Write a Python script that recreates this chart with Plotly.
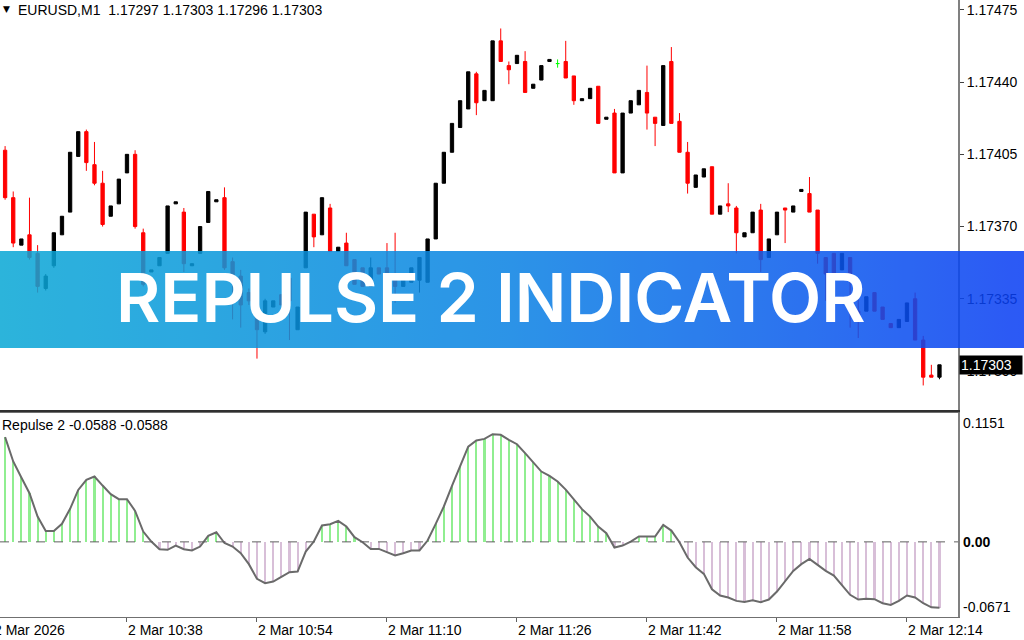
import base64
import pandas as pd
import plotly.graph_objects as go

# ---------------- data ----------------
times = pd.date_range("2026-03-02 10:23", periods=116, freq="min").strftime("%H:%M").tolist()

open_ = [1.17407, 1.17384, 1.17361, 1.17366, 1.17357, 1.17340, 1.17351, 1.17366, 1.17377, 1.17404,
         1.17416, 1.17400, 1.17391, 1.17375, 1.17381, 1.17396, 1.17405, 1.17367, 1.17348, 1.17351,
         1.17357, 1.17381, 1.17377, 1.17351, 1.17357, 1.17372, 1.17382, 1.17384, 1.17353, 1.17346,
         1.17338, 1.17340, 1.17319, 1.17331, 1.17337, 1.17345, 1.17320, 1.17350, 1.17376, 1.17366,
         1.17379, 1.17358, 1.17362, 1.17354, 1.17350, 1.17341, 1.17350, 1.17350, 1.17344, 1.17341,
         1.17343, 1.17344, 1.17343, 1.17364, 1.17391, 1.17406, 1.17418, 1.17427, 1.17444, 1.17431,
         1.17431, 1.17460, 1.17448, 1.17449, 1.17450, 1.17437, 1.17441, 1.17450, 1.17449, 1.17450,
         1.17443, 1.17431, 1.17432, 1.17438, 1.17422, 1.17425, 1.17396, 1.17425, 1.17429, 1.17435,
         1.17423, 1.17419, 1.17450, 1.17421, 1.17406, 1.17389, 1.17394, 1.17399, 1.17376, 1.17381,
         1.17379, 1.17365, 1.17367, 1.17378, 1.17355, 1.17366, 1.17379, 1.17377, 1.17387, 1.17386,
         1.17378, 1.17355, 1.17357, 1.17349, 1.17355, 1.17329, 1.17329, 1.17338, 1.17331, 1.17323,
         1.17321, 1.17324, 1.17335, 1.17315, 1.17298, 1.17297]
high = [1.17409, 1.17387, 1.17364, 1.17384, 1.17361, 1.17347, 1.17367, 1.17375, 1.17406, 1.17416,
        1.17417, 1.17411, 1.17397, 1.17380, 1.17393, 1.17405, 1.17407, 1.17369, 1.17349, 1.17355,
        1.17380, 1.17382, 1.17379, 1.17352, 1.17370, 1.17387, 1.17383, 1.17389, 1.17355, 1.17349,
        1.17340, 1.17341, 1.17335, 1.17334, 1.17337, 1.17346, 1.17331, 1.17377, 1.17376, 1.17384,
        1.17381, 1.17360, 1.17367, 1.17354, 1.17350, 1.17355, 1.17350, 1.17362, 1.17367, 1.17344,
        1.17350, 1.17355, 1.17364, 1.17391, 1.17406, 1.17420, 1.17431, 1.17445, 1.17445, 1.17436,
        1.17460, 1.17466, 1.17450, 1.17453, 1.17455, 1.17439, 1.17448, 1.17451, 1.17451, 1.17460,
        1.17443, 1.17432, 1.17437, 1.17438, 1.17423, 1.17427, 1.17425, 1.17431, 1.17436, 1.17448,
        1.17423, 1.17448, 1.17457, 1.17425, 1.17411, 1.17395, 1.17398, 1.17399, 1.17380, 1.17391,
        1.17380, 1.17367, 1.17377, 1.17381, 1.17364, 1.17377, 1.17379, 1.17380, 1.17388, 1.17394,
        1.17378, 1.17355, 1.17357, 1.17357, 1.17355, 1.17336, 1.17336, 1.17338, 1.17331, 1.17323,
        1.17325, 1.17333, 1.17338, 1.17317, 1.17303, 1.17303]
low = [1.17383, 1.17360, 1.17361, 1.17354, 1.17338, 1.17339, 1.17350, 1.17366, 1.17377, 1.17404,
       1.17397, 1.17390, 1.17370, 1.17375, 1.17381, 1.17396, 1.17369, 1.17341, 1.17348, 1.17351,
       1.17357, 1.17381, 1.17348, 1.17351, 1.17357, 1.17372, 1.17382, 1.17349, 1.17325, 1.17321,
       1.17332, 1.17306, 1.17318, 1.17331, 1.17332, 1.17315, 1.17320, 1.17350, 1.17360, 1.17366,
       1.17358, 1.17358, 1.17351, 1.17342, 1.17341, 1.17341, 1.17347, 1.17343, 1.17333, 1.17341,
       1.17343, 1.17338, 1.17343, 1.17364, 1.17391, 1.17406, 1.17418, 1.17427, 1.17424, 1.17431,
       1.17431, 1.17450, 1.17439, 1.17449, 1.17435, 1.17437, 1.17441, 1.17450, 1.17447, 1.17442,
       1.17429, 1.17431, 1.17432, 1.17420, 1.17422, 1.17396, 1.17396, 1.17425, 1.17429, 1.17417,
       1.17409, 1.17419, 1.17420, 1.17406, 1.17386, 1.17389, 1.17394, 1.17376, 1.17376, 1.17377,
       1.17357, 1.17365, 1.17367, 1.17348, 1.17355, 1.17366, 1.17362, 1.17377, 1.17387, 1.17377,
       1.17352, 1.17334, 1.17346, 1.17349, 1.17321, 1.17316, 1.17329, 1.17329, 1.17325, 1.17321,
       1.17321, 1.17324, 1.17315, 1.17293, 1.17297, 1.17296]
close = [1.17384, 1.17362, 1.17364, 1.17355, 1.17341, 1.17346, 1.17367, 1.17375, 1.17406, 1.17416,
         1.17401, 1.17391, 1.17371, 1.17380, 1.17393, 1.17405, 1.17370, 1.17342, 1.17349, 1.17355,
         1.17380, 1.17382, 1.17352, 1.17352, 1.17370, 1.17387, 1.17383, 1.17350, 1.17345, 1.17332,
         1.17334, 1.17320, 1.17334, 1.17334, 1.17332, 1.17334, 1.17331, 1.17377, 1.17365, 1.17384,
         1.17358, 1.17360, 1.17351, 1.17342, 1.17341, 1.17350, 1.17347, 1.17343, 1.17341, 1.17344,
         1.17350, 1.17355, 1.17364, 1.17391, 1.17406, 1.17420, 1.17431, 1.17445, 1.17430, 1.17436,
         1.17460, 1.17450, 1.17446, 1.17453, 1.17435, 1.17439, 1.17448, 1.17451, 1.17449, 1.17442,
         1.17431, 1.17432, 1.17437, 1.17420, 1.17423, 1.17396, 1.17425, 1.17431, 1.17436, 1.17425,
         1.17420, 1.17448, 1.17420, 1.17406, 1.17391, 1.17395, 1.17398, 1.17376, 1.17380, 1.17380,
         1.17367, 1.17367, 1.17377, 1.17354, 1.17364, 1.17377, 1.17378, 1.17380, 1.17388, 1.17377,
         1.17357, 1.17347, 1.17346, 1.17357, 1.17347, 1.17327, 1.17336, 1.17329, 1.17325, 1.17321,
         1.17325, 1.17333, 1.17315, 1.17297, 1.17297, 1.17303]

repulse = [0.0935, 0.0718, 0.0575, 0.0435, 0.0226, 0.0098, 0.0098, 0.0161, 0.0295, 0.0464,
           0.0554, 0.0584, 0.0503, 0.0426, 0.0381, 0.0381, 0.0277, 0.0092, 0.0003, -0.0066,
           -0.0071, -0.0033, -0.0066, -0.0077, -0.0042, 0.0054, 0.0086, -0.0010, -0.0042, -0.0101,
           -0.0199, -0.0330, -0.0369, -0.0354, -0.0313, -0.0271, -0.0265, -0.0086, 0.0003, 0.0146,
           0.0158, 0.0188, 0.0137, 0.0042, -0.0003, -0.0063, -0.0063, -0.0092, -0.0122, -0.0101,
           -0.0077, -0.0077, 0.0012, 0.0161, 0.0316, 0.0500, 0.0673, 0.0851, 0.0905, 0.0920,
           0.0962, 0.0956, 0.0911, 0.0872, 0.0792, 0.0712, 0.0628, 0.0590, 0.0539, 0.0467,
           0.0381, 0.0292, 0.0226, 0.0137, 0.0077, -0.0051, -0.0033, 0.0003, 0.0048, 0.0048,
           0.0048, 0.0152, 0.0101, -0.0003, -0.0140, -0.0226, -0.0286, -0.0423, -0.0479, -0.0497,
           -0.0527, -0.0536, -0.0521, -0.0539, -0.0515, -0.0444, -0.0348, -0.0259, -0.0199, -0.0152,
           -0.0205, -0.0259, -0.0301, -0.0387, -0.0473, -0.0515, -0.0509, -0.0512, -0.0548, -0.0563,
           -0.0527, -0.0479, -0.0497, -0.0548, -0.0585, -0.0588]

price_ticks = [1.17475, 1.17440, 1.17405, 1.17370, 1.17335, 1.17300]
time_tick_cats = ["10:38", "10:54", "11:10", "11:26", "11:42", "11:58", "12:14"]
time_tick_text = ["2 Mar 10:38", "2 Mar 10:54", "2 Mar 11:10", "2 Mar 11:26",
                  "2 Mar 11:42", "2 Mar 11:58", "2 Mar 12:14"]
first_label = "2 Mar 2026"
ind_labels = [0.1151, 0.0, -0.0671]
ind_label_text = ["0.1151", "<b>0.00</b>", "-0.0671"]
title_text = "EURUSD,M1\u00a0\u00a01.17297 1.17303 1.17296 1.17303"
ind_title = "Repulse 2 -0.0588 -0.0588"
last_price = 1.17303
banner_text = "REPULSE 2 INDICATOR"

# ---------------- geometry ----------------
W, H = 1024, 640
ML, MR, MT, MB = 0, 66, 0, 23
PW, PH = W - ML - MR, H - MT - MB
XMIN, XMAX = -0.628, 117.28
PRICE_RANGE = [1.172811, 1.174798]
IND_RANGE = [-0.0671, 0.1151]
FONT = "Liberation Sans"

fig = go.Figure()

# candles (doji in green)
is_doji = [o == c for o, c in zip(open_, close)]
idx_main = [i for i, d in enumerate(is_doji) if not d]
idx_doji = [i for i, d in enumerate(is_doji) if d]

fig.add_trace(go.Candlestick(
    x=[times[i] for i in idx_main],
    open=[open_[i] for i in idx_main], high=[high[i] for i in idx_main],
    low=[low[i] for i in idx_main], close=[close[i] for i in idx_main],
    increasing=dict(line=dict(color="#000000", width=1), fillcolor="#000000"),
    decreasing=dict(line=dict(color="#ff0000", width=1), fillcolor="#ff0000"),
    xaxis="x", yaxis="y", showlegend=False, hoverinfo="skip"))
fig.add_trace(go.Candlestick(
    x=[times[i] for i in idx_doji],
    open=[open_[i] for i in idx_doji], high=[high[i] for i in idx_doji],
    low=[low[i] for i in idx_doji], close=[close[i] for i in idx_doji],
    increasing=dict(line=dict(color="#00ff00", width=1), fillcolor="#00ff00"),
    decreasing=dict(line=dict(color="#00ff00", width=1), fillcolor="#00ff00"),
    xaxis="x", yaxis="y", showlegend=False, hoverinfo="skip"))

# indicator histogram + line
fig.add_trace(go.Bar(
    x=times, y=repulse, width=0.26,
    marker=dict(color=["#90ee90" if v >= 0 else "#d8bfd8" for v in repulse], line=dict(width=0)),
    xaxis="x2", yaxis="y2", showlegend=False, hoverinfo="skip"))
fig.add_trace(go.Scatter(
    x=times, y=repulse, mode="lines", line=dict(color="#6a6a6a", width=2),
    xaxis="x2", yaxis="y2", showlegend=False, hoverinfo="skip"))

# banner gradient (decorative)
svg = ('<svg xmlns="http://www.w3.org/2000/svg" width="1024" height="97" preserveAspectRatio="none">'
       '<defs><linearGradient id="g" x1="0" y1="0" x2="1" y2="0">'
       '<stop offset="0" stop-color="#0aa8d6"/><stop offset="0.5" stop-color="#0a82e4"/>'
       '<stop offset="1" stop-color="#0a3ef4"/></linearGradient></defs>'
       '<rect width="1024" height="97" fill="url(#g)"/></svg>')
src = "data:image/svg+xml;base64," + base64.b64encode(svg.encode()).decode()
BAN_TOP, BAN_H = 251, 97
fig.add_layout_image(dict(source=src, xref="paper", yref="paper",
                          x=0, y=1 - BAN_TOP / PH, sizex=W / PW, sizey=BAN_H / PH,
                          xanchor="left", yanchor="top", sizing="stretch",
                          layer="above", opacity=0.86))

top_dom = [(PH - 410) / PH, 1.0]
bot_dom = [0.0, (PH - 413) / PH]

fig.update_layout(
    width=W, height=H, margin=dict(l=ML, r=MR, t=MT, b=MB, autoexpand=False),
    paper_bgcolor="white", plot_bgcolor="white",
    font=dict(family=FONT, size=14, color="black"),
    boxgap=0.42, bargap=0,
    xaxis=dict(type="category", categoryarray=times, range=[XMIN, XMAX], domain=[0, 1],
               anchor="y", rangeslider=dict(visible=False), showgrid=False, zeroline=False,
               showticklabels=False, ticks="", showline=True, linecolor="#303030", linewidth=2),
    yaxis=dict(domain=top_dom, range=PRICE_RANGE, side="right", anchor="x",
               tickvals=price_ticks, ticktext=[f"{v:.5f}" for v in price_ticks],
               ticks="outside", ticklen=4, tickcolor="#404040", showgrid=False, zeroline=False,
               showline=True, linecolor="#808080", linewidth=2,
               tickfont=dict(family=FONT, size=14, color="black")),
    xaxis2=dict(type="category", categoryarray=times, range=[XMIN, XMAX], domain=[0, 1],
                anchor="y2", matches="x", showgrid=False, zeroline=False,
                tickvals=time_tick_cats, ticktext=time_tick_text, ticks="outside", ticklen=4,
                tickcolor="#606060", ticklabelposition="outside right",
                showline=True, mirror=True, linecolor="#707070", linewidth=1,
                tickfont=dict(family=FONT, size=14, color="black")),
    yaxis2=dict(domain=bot_dom, range=IND_RANGE, side="right", anchor="x2",
                showticklabels=False, ticks="", showgrid=False, zeroline=False,
                showline=True, linecolor="#808080", linewidth=2),
)

# zero level dashed line
fig.add_shape(type="line", xref="paper", yref="y2", x0=0, x1=1, y0=0, y1=0,
              line=dict(color="#606060", width=1, dash="dash"), layer="above")

# indicator axis labels
for v, t in zip(ind_labels, ind_label_text):
    ya = "top" if v == max(ind_labels) else ("bottom" if v == min(ind_labels) else "middle")
    fig.add_annotation(text=t, xref="paper", yref="y2", x=1.0, y=v, xanchor="left", yanchor=ya,
                       xshift=3, showarrow=False, font=dict(family=FONT, size=14, color="black"))

# first date label (left, partially clipped)
fig.add_annotation(text=first_label, xref="paper", yref="paper",
                   x=(-1 - XMIN) / (XMAX - XMIN), y=0, xanchor="left", yanchor="top",
                   xshift=-5, yshift=-3,
                   showarrow=False, font=dict(family=FONT, size=14, color="black"))

# current price box
fig.add_annotation(text=f"{last_price:.5f}", xref="paper", yref="y", x=1.0, y=last_price,
                   xanchor="left", yanchor="middle", xshift=1, showarrow=False,
                   bgcolor="black", borderpad=1, width=60, align="left",
                   font=dict(family=FONT, size=14, color="white"))

# chart titles
fig.add_annotation(text="\u25bc", xref="paper", yref="paper", x=0, y=1, xanchor="left",
                   yanchor="top", xshift=1, yshift=-2, showarrow=False,
                   font=dict(family="DejaVu Sans", size=9, color="black"))
fig.add_annotation(text=title_text, xref="paper", yref="paper", x=0, y=1, xanchor="left",
                   yanchor="top", xshift=16, yshift=0, showarrow=False,
                   font=dict(family=FONT, size=14, color="black"))
fig.add_annotation(text=ind_title, xref="paper", yref="paper", x=0, y=bot_dom[1],
                   xanchor="left", yanchor="top", xshift=0, yshift=-2, showarrow=False,
                   font=dict(family=FONT, size=14, color="black"))

# banner title
fig.add_annotation(text=banner_text, xref="paper", yref="paper",
                   x=491 / PW, y=1 - 296.5 / PH, xanchor="center", yanchor="middle",
                   showarrow=False,
                   font=dict(family="Inter", size=68, color="white", weight=600))

fig.write_html("out.html", config={"displayModeBar": False},
               post_script="document.body.style.margin='0';document.body.style.padding='0';")
